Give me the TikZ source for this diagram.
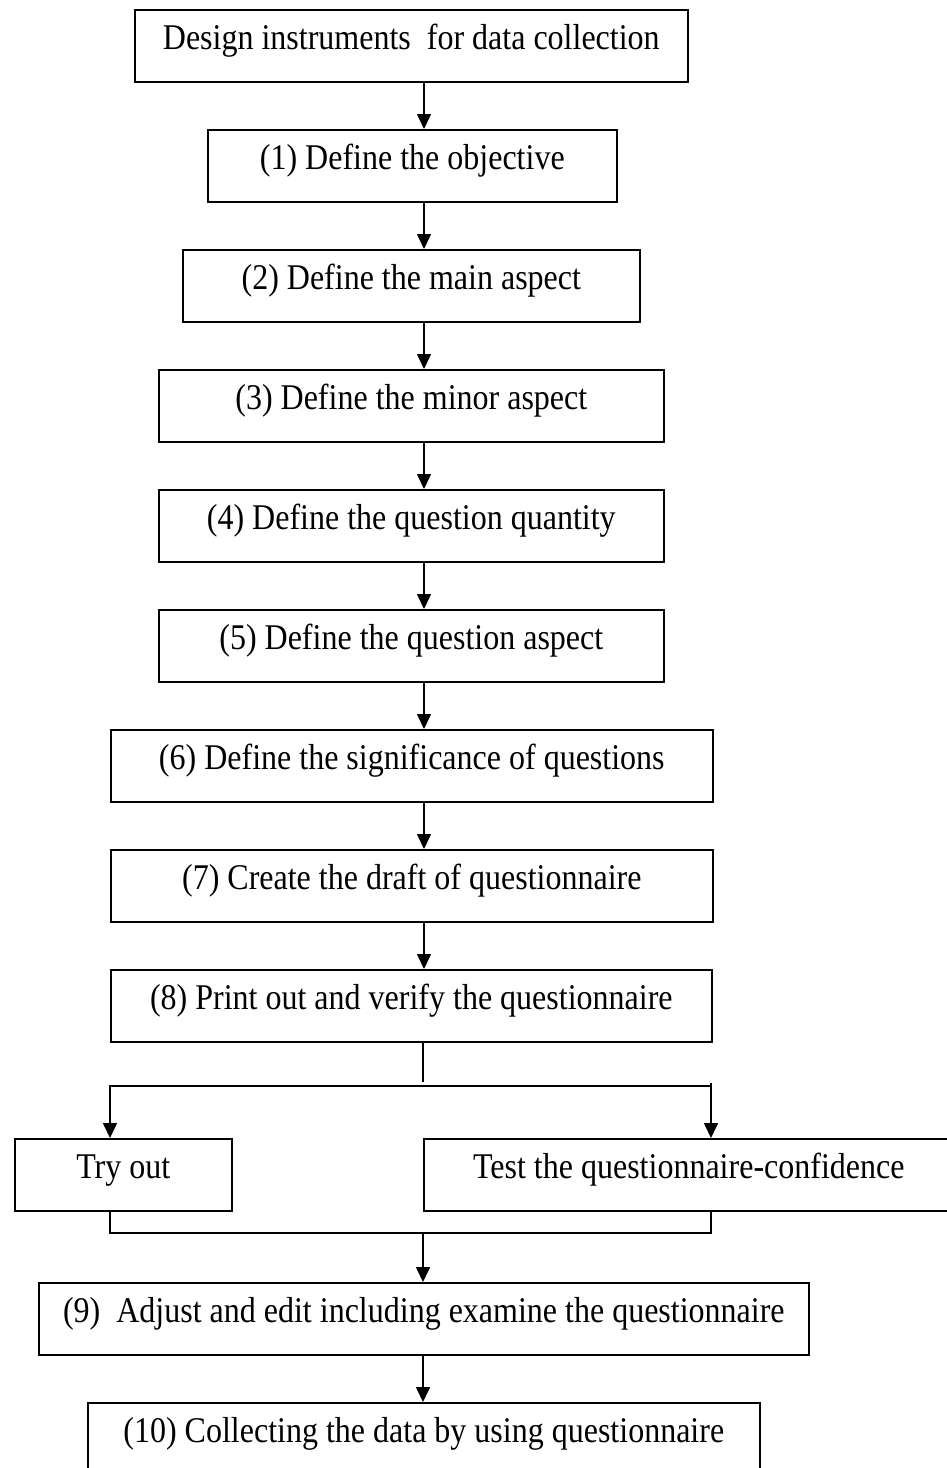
\documentclass[tikz,border=0pt]{standalone}
\usepackage{fontspec}
\setmainfont{Liberation Serif}[Ligatures=CommonOff]
\usetikzlibrary{arrows.meta}

% box labels are set in a slightly tall, narrow Times face
\newcommand{\boxtext}[1]{\scalebox{1}[1.13]{#1}}

\begin{document}
\begin{tikzpicture}[x=1pt,y=-1pt,
  stepbox/.style={draw, line width=1.6pt, inner sep=0pt, anchor=north west,
    text height=40pt, text depth=32pt, minimum height=72pt,
    font=\fontsize{32}{38}\selectfont},
  link/.style={line width=1.6pt},
  arr/.style={link, -{Triangle[length=15pt,width=14pt]}}]

% page frame
\clip (0,0) rectangle (947,1468);
\fill[white] (0,0) rectangle (947,1468);

% process boxes
\node[stepbox, minimum width=553pt] (top) at (134,9)  {\boxtext{Design instruments\ \ for data collection}};
\node[stepbox, minimum width=409pt] (b1) at (207,129)  {\boxtext{(1) Define the objective}};
\node[stepbox, minimum width=457pt] (b2) at (182,249)  {\boxtext{(2) Define the main aspect}};
\node[stepbox, minimum width=505pt] (b3) at (158,369)  {\boxtext{(3) Define the minor aspect}};
\node[stepbox, minimum width=505pt] (b4) at (158,489)  {\boxtext{(4) Define the question quantity}};
\node[stepbox, minimum width=505pt] (b5) at (158,609)  {\boxtext{(5) Define the question aspect}};
\node[stepbox, minimum width=602pt] (b6) at (110,729)  {\boxtext{(6) Define the significance of questions}};
\node[stepbox, minimum width=602pt] (b7) at (110,849)  {\boxtext{(7) Create the draft of questionnaire}};
\node[stepbox, minimum width=601pt] (b8) at (110,969)  {\boxtext{(8) Print out and verify the questionnaire}};
\node[stepbox, minimum width=217pt] (try) at (14,1138) {\boxtext{Try out}};
\node[stepbox, minimum width=530pt] (test) at (423,1138) {\boxtext{Test the questionnaire-confidence}};
\node[stepbox, minimum width=770pt] (b9) at (38,1282)  {\boxtext{(9)\ \ Adjust and edit including examine the questionnaire}};
\node[stepbox, minimum width=672pt] (b10) at (87,1402) {\boxtext{(10) Collecting the data by using questionnaire}};

% connector columns and junctions
\coordinate (ax) at (424,0);
\coordinate (bx) at (423,0);
\coordinate (sl) at (110,1086);
\coordinate (sr) at (711,1086);
\coordinate (jl) at (110,1233);
\coordinate (jr) at (711,1233);

% main chain
\draw[arr] (top.south -| ax) -- (b1.north -| ax);
\draw[arr] (b1.south -| ax) -- (b2.north -| ax);
\draw[arr] (b2.south -| ax) -- (b3.north -| ax);
\draw[arr] (b3.south -| ax) -- (b4.north -| ax);
\draw[arr] (b4.south -| ax) -- (b5.north -| ax);
\draw[arr] (b5.south -| ax) -- (b6.north -| ax);
\draw[arr] (b6.south -| ax) -- (b7.north -| ax);
\draw[arr] (b7.south -| ax) -- (b8.north -| ax);

% split into the two checks
\draw[link] (b8.south -| bx) -- ([yshift=4pt]sl -| bx);
\draw[arr] (sr) -- (sl) -- (try.north -| sl);
\draw[arr] ([yshift=3pt]sr) -- (test.north -| sr);

% merge back
\draw[link] (try.south -| jl) -- (jl) -- (jr) -- (test.south -| jr);
\draw[arr] (jl -| bx) -- (b9.north -| bx);
\draw[arr] (b9.south -| bx) -- (b10.north -| bx);
\end{tikzpicture}
\end{document}
